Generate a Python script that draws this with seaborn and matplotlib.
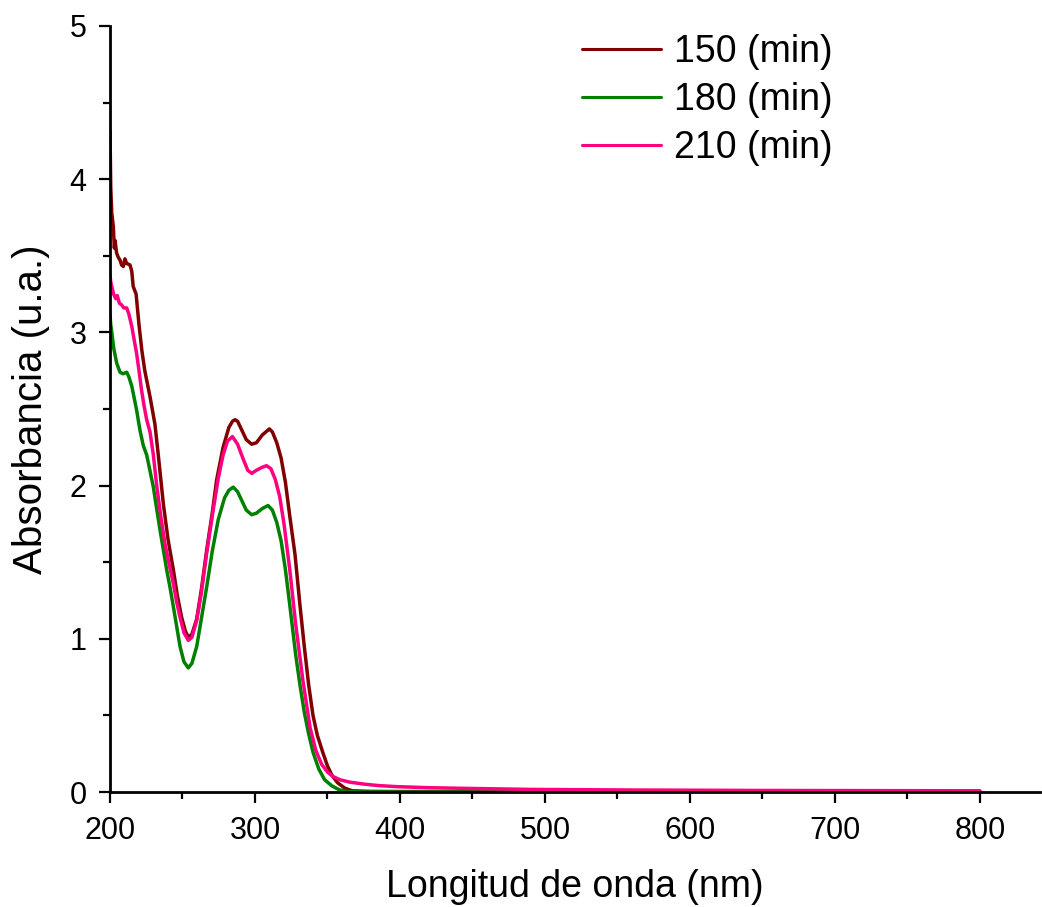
import numpy as np
import pandas as pd
import seaborn as sns
from matplotlib import pyplot as plt
from matplotlib.ticker import MultipleLocator

# ---- data ----
wl_150 = [200, 200.5, 201.2, 202.3, 203, 203.5, 204.5, 205.7, 207, 208, 209.2, 210.3, 211.5,
          213.8, 215, 216, 218, 220, 222, 224, 227.6, 231, 233.3, 236.8, 240, 243.7, 246.5,
          249.4, 252, 254, 256.5, 259.8, 263, 266.7, 270.5, 273.6, 278, 282, 284.5, 286.2,
          288, 291, 294, 297.7, 301, 305, 309.9, 312, 315, 318, 321, 324, 327.6, 331, 334,
          337, 340, 343, 346.7, 350, 353, 357, 362, 367, 380, 400, 500, 600, 700, 800]
abs_150 = [4.32, 3.95, 3.78, 3.69, 3.55, 3.60, 3.52, 3.49, 3.47, 3.44, 3.43, 3.48, 3.45,
           3.44, 3.40, 3.30, 3.25, 3.05, 2.88, 2.75, 2.58, 2.40, 2.20, 1.88, 1.65, 1.45, 1.28,
           1.14, 1.05, 1.01, 1.03, 1.13, 1.32, 1.58, 1.82, 2.04, 2.25, 2.38, 2.42, 2.43,
           2.42, 2.36, 2.30, 2.27, 2.28, 2.33, 2.37, 2.35, 2.28, 2.18, 2.02, 1.80, 1.55, 1.22, 0.95,
           0.70, 0.50, 0.37, 0.26, 0.17, 0.11, 0.06, 0.025, 0.008, 0.004, 0.003, 0.002, 0.002, 0.002, 0.002]

wl_180 = [200, 200.5, 201, 202.5, 204.6, 206.9, 209, 211.5, 213, 215, 216.5, 218.4, 220.7,
          223, 225.3, 227.5, 229.9, 232, 234.5, 237, 239.1, 241.5, 243.7, 246, 248.3, 251,
          254, 256.5, 259.8, 263, 266.7, 270.5, 274.7, 279, 282, 285, 288, 291, 294, 297.7,
          301, 305, 309, 312, 315, 318, 321, 324, 328, 331, 334, 337, 340, 344, 348, 353,
          358, 363, 370, 400, 600, 800]
abs_180 = [3.12, 3.05, 3.02, 2.90, 2.80, 2.74, 2.73, 2.74, 2.71, 2.65, 2.58, 2.49, 2.36,
           2.26, 2.20, 2.10, 1.99, 1.86, 1.71, 1.57, 1.45, 1.33, 1.21, 1.08, 0.95, 0.85,
           0.81, 0.84, 0.95, 1.13, 1.34, 1.57, 1.78, 1.92, 1.97, 1.99, 1.96, 1.90, 1.84, 1.81,
           1.82, 1.85, 1.87, 1.84, 1.76, 1.64, 1.45, 1.22, 0.90, 0.70, 0.52, 0.38, 0.26, 0.15, 0.08, 0.04,
           0.015, 0.004, 0.001, 0.0, 0.0, 0.0]

wl_210 = [200, 200.5, 201.2, 202.5, 204, 205, 206.5, 208, 209.5, 211.5, 213, 215, 216.5,
          218.4, 220, 221.8, 223.5, 225.3, 227.6, 229.9, 232.2, 235, 237.9, 240.5, 243.7,
          246, 248.3, 251, 254, 256.5, 259.8, 263, 266.7, 270.5, 274.7, 278, 281, 284.4,
          288, 292, 295, 297.7, 301, 305, 308, 311, 314, 317, 320, 324, 328, 333, 338, 342,
          346, 350, 354, 358.6, 365, 374.7, 385, 397.7, 420, 443.7, 489.7, 558.6, 650, 800]
abs_210 = [3.38, 3.33, 3.30, 3.25, 3.22, 3.24, 3.19, 3.18, 3.16, 3.16, 3.12, 3.04, 2.96,
           2.86, 2.75, 2.62, 2.52, 2.43, 2.35, 2.20, 2.00, 1.80, 1.62, 1.50, 1.36,
           1.24, 1.14, 1.04, 0.99, 1.01, 1.12, 1.30, 1.56, 1.80, 2.05, 2.20, 2.29, 2.32,
           2.27, 2.17, 2.10, 2.08, 2.10, 2.12, 2.13, 2.11, 2.04, 1.93, 1.75, 1.45, 1.10, 0.73, 0.42, 0.27,
           0.18, 0.13, 0.10, 0.08, 0.065, 0.052, 0.042, 0.035, 0.028, 0.024, 0.017, 0.013, 0.010, 0.008]

labels = ['150 (min)', '180 (min)', '210 (min)']
colores = ['#800000', '#008000', '#FF0080']

df = pd.concat([
    pd.DataFrame({'wl': wl_150, 'abs': abs_150, 'tiempo': labels[0]}),
    pd.DataFrame({'wl': wl_180, 'abs': abs_180, 'tiempo': labels[1]}),
    pd.DataFrame({'wl': wl_210, 'abs': abs_210, 'tiempo': labels[2]}),
])

sns.set_style('ticks')
plt.rcParams['font.family'] = ['Liberation Sans', 'DejaVu Sans']
plt.rcParams['text.color'] = 'black'
plt.rcParams['axes.labelcolor'] = 'black'
plt.rcParams['xtick.color'] = 'black'
plt.rcParams['ytick.color'] = 'black'

fig = plt.figure(figsize=(10.42, 9.07), dpi=100)
ax = fig.add_axes([110/1042, 115/907, 930/1042, 766/907])

sns.lineplot(data=df, x='wl', y='abs', hue='tiempo', palette=colores,
             linewidth=2.5, sort=False, estimator=None, ax=ax)

ax.set_xlim(200, 841.4)
ax.set_ylim(0, 5)
ax.xaxis.set_major_locator(MultipleLocator(100))
ax.xaxis.set_minor_locator(MultipleLocator(50))
ax.yaxis.set_major_locator(MultipleLocator(1))
ax.yaxis.set_minor_locator(MultipleLocator(0.5))
ax.set_xticks([200, 300, 400, 500, 600, 700, 800])
ax.tick_params(which='major', length=8, width=1.6, labelsize=22, direction='out', pad=9)
ax.tick_params(which='minor', length=5, width=1.6, direction='out')
for s in ['left', 'bottom']:
    ax.spines[s].set_linewidth(2)
    ax.spines[s].set_color('black')
sns.despine(ax=ax)

ax.set_xlabel('Longitud de onda (nm)', fontsize=27, labelpad=17)
ax.set_ylabel('Absorbancia (u.a.)', fontsize=29, labelpad=14)

leg = ax.legend(loc='upper left', bbox_to_anchor=(0.508, 0.99), frameon=False,
                fontsize=27, handlelength=2.1, handletextpad=0.35,
                labelspacing=0.32, borderpad=0, borderaxespad=0)
for h in leg.get_lines():
    h.set_linewidth(2.2)

fig.savefig('out.png', dpi=100)
